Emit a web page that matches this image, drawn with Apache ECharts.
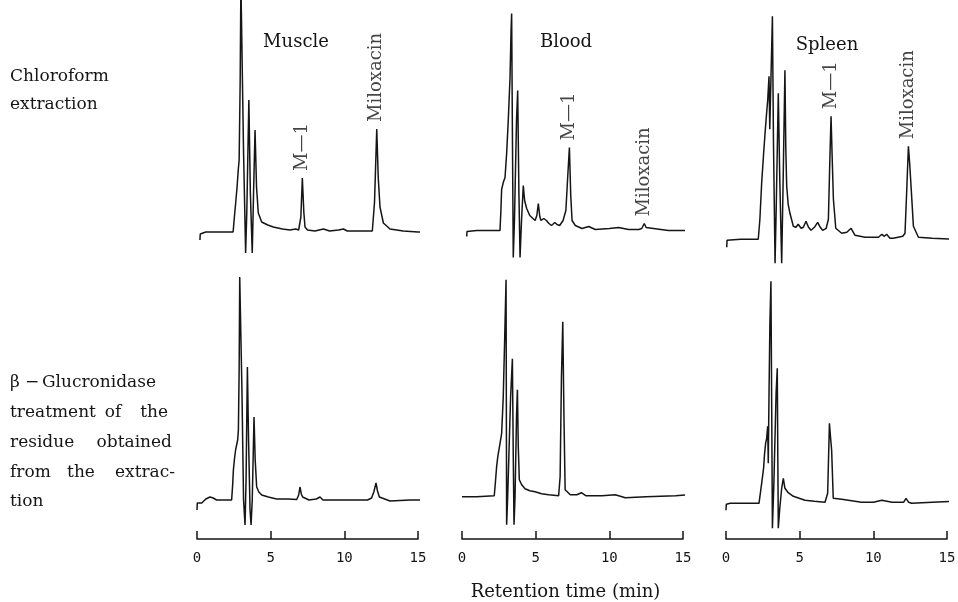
<!DOCTYPE html>
<html>
<head>
<meta charset="utf-8">
<title>Miloxacin HPLC chromatograms</title>
<script src="https://cdn.jsdelivr.net/npm/echarts@6/dist/echarts.min.js"></script>
<style>
  html, body { margin: 0; padding: 0; background: #fff; }
  #chart { width: 958px; height: 602px; }
</style>
</head>
<body>
<div id="chart"></div>
<script>
// traces: [retention time (min), detector response (arb. units above baseline)]
// top row = chloroform extraction
var muscleChl = [[0.2,-8],[0.22,-2],[0.6,0],[1.5,0],[2.45,0],[2.52,12],[2.6,25],[2.72,45],[2.8,62],[2.86,72],[2.93,150],[2.98,250],[3.06,250],[3.16,80],[3.3,-21],[3.38,20],[3.52,132],[3.62,40],[3.75,-21],[3.84,40],[3.94,102],[4.04,45],[4.16,19],[4.39,10],[4.8,7],[5.18,5],[5.8,3],[6.31,2],[6.7,3],[6.9,2],[7.05,15],[7.15,54],[7.25,20],[7.33,5],[7.5,2],[8.0,1],[8.58,3],[9.0,1],[9.6,2],[9.94,3],[10.2,1],[11.0,1],[11.9,1],[12.05,30],[12.2,103],[12.3,55],[12.42,25],[12.65,9],[13.1,3],[14,1],[15,0],[16.27,-1]];
var bloodChl = [[0.32,-6],[0.34,-1],[1,0],[2.0,0],[2.58,0],[2.64,20],[2.69,41],[2.8,48],[2.92,53],[3.03,77],[3.14,110],[3.26,153],[3.33,200],[3.37,217],[3.42,100],[3.48,-27],[3.56,10],[3.7,110],[3.78,140],[3.86,40],[3.94,-27],[4.04,10],[4.16,45],[4.25,30],[4.39,22],[4.6,15],[4.73,13],[4.96,10],[5.08,15],[5.18,27],[5.28,14],[5.36,10],[5.55,12],[5.73,10],[5.9,7],[6.07,5],[6.3,8],[6.45,6],[6.63,5],[6.86,10],[7.05,20],[7.18,55],[7.29,83],[7.38,35],[7.47,10],[7.69,5],[8.14,2],[8.6,4],[9.05,1],[10.0,2],[10.63,3],[11.3,1],[12.0,1],[12.2,2],[12.37,7],[12.5,3],[12.6,1],[14,0],[16.27,0]];
var spleenChl = [[0.05,-8],[0.07,-1],[1,0],[2.19,0],[2.3,20],[2.42,56],[2.55,85],[2.65,106],[2.75,125],[2.83,139],[2.92,163],[2.97,110],[3.05,160],[3.15,223],[3.22,100],[3.33,-24],[3.42,40],[3.55,146],[3.65,60],[3.78,-24],[3.88,60],[4.0,169],[4.06,90],[4.12,53],[4.22,35],[4.34,26],[4.57,13],[4.75,12],[4.9,15],[5.1,11],[5.25,12],[5.43,18],[5.6,12],[5.77,9],[6.0,12],[6.22,17],[6.4,12],[6.56,9],[6.8,11],[6.95,20],[7.05,80],[7.13,123],[7.2,85],[7.29,40],[7.45,11],[7.85,6],[8.2,7],[8.49,11],[8.76,4],[9.44,2],[10.35,2],[10.58,5],[10.75,3],[10.9,5],[11.13,1],[11.35,1],[12.0,3],[12.15,6],[12.27,50],[12.38,93],[12.47,75],[12.56,53],[12.72,13],[13.06,2],[14,1],[15.66,0]];
// bottom row = beta-glucuronidase treatment of the residue
var muscleGlu = [[0,-10],[0.02,-3],[0.32,-3],[0.6,1],[0.88,3],[1.1,2],[1.33,0],[2.35,0],[2.42,15],[2.47,30],[2.55,42],[2.62,50],[2.7,52],[2.76,60],[2.81,70],[2.86,130],[2.9,223],[2.97,223],[3.05,110],[3.16,0],[3.26,-25],[3.33,20],[3.42,133],[3.5,60],[3.6,-10],[3.67,-25],[3.75,0],[3.87,83],[3.95,40],[4.05,13],[4.2,8],[4.39,5],[4.84,3],[5.41,1],[6.2,1],[6.77,0.5],[6.9,5],[6.99,13],[7.08,6],[7.17,3],[7.6,0],[8.1,1],[8.35,3],[8.55,0],[10,0],[11.57,0],[11.85,2],[12.0,8],[12.15,17],[12.25,9],[12.38,3],[13.1,-1],[14.46,0],[15.2,0],[16.16,-3]];
var bloodGlu = [[0,0],[1,0],[2.19,1],[2.27,15],[2.35,30],[2.43,40],[2.51,47],[2.6,55],[2.69,63],[2.8,100],[2.9,160],[2.99,217],[3.03,-28],[3.1,0],[3.3,100],[3.42,138],[3.48,40],[3.53,-28],[3.6,0],[3.7,80],[3.76,107],[3.82,50],[3.89,17],[4.05,12],[4.28,8],[4.6,6],[4.96,5],[5.4,3],[5.88,2],[6.56,1],[6.66,20],[6.75,120],[6.84,175],[6.92,80],[7.0,7],[7.35,2],[7.8,2],[8.1,4],[8.4,1],[9.5,1],[10.4,2],[11.09,-1],[12.5,0],[14.5,1],[15.37,2],[15.65,1],[15.93,-1]];
var spleenGlu = [[0,-7],[0.02,-1],[0.29,0],[1.5,0],[2.24,0],[2.33,10],[2.42,20],[2.55,35],[2.62,50],[2.69,60],[2.76,65],[2.83,77],[2.87,40],[2.92,110],[2.98,180],[3.05,222],[3.1,100],[3.15,-25],[3.25,20],[3.4,110],[3.48,135],[3.52,40],[3.55,-25],[3.65,-5],[3.78,15],[3.89,25],[4.0,15],[4.2,11],[4.57,7],[5.36,3],[6.0,2],[6.72,1],[6.9,10],[7.02,80],[7.1,65],[7.17,53],[7.28,5],[7.85,4],[8.3,3],[9.2,1],[10.0,1],[10.58,3],[11.27,1],[12.05,1],[12.22,5],[12.4,1],[12.6,0],[14,1],[15.66,2]];

// peak labels of the chloroform extracts: [name, time, apex]
var musclePeaks = [['M—1', 7.15, 54], ['Miloxacin', 12.2, 103]];
var bloodPeaks = [['M—1', 7.29, 83], ['Miloxacin', 12.37, 7]];
var spleenPeaks = [['M—1', 7.13, 123], ['Miloxacin', 12.38, 93]];

var tissues = ['Muscle', 'Blood', 'Spleen'];
var timeMin = 0, timeMax = 15, timeStep = 5;

var topTraces = [muscleChl, bloodChl, spleenChl];
var botTraces = [muscleGlu, bloodGlu, spleenGlu];
var peakSets = [musclePeaks, bloodPeaks, spleenPeaks];

// layout (pixels)
var colLeft = [197, 462, 726];
var colWidth = 221;
var topBase = [232, 230.5, 239.3];
var botBase = [500, 496.7, 503.3];
var botTop = 260, axisY = 539;
var serif = 'DejaVu Serif';
var ink = '#151515';

var chart = echarts.init(document.getElementById('chart'));

var grids = [], xAxes = [], yAxes = [], series = [];

for (var c = 0; c < 3; c++) {
    // top row: no axis drawn, 1 unit = 1 px
    grids.push({ left: colLeft[c], width: colWidth, top: 0, height: topBase[c] + 40, outerBoundsMode: 'none' });
    xAxes.push({ gridIndex: c, type: 'value', min: timeMin, max: timeMax, show: false });
    yAxes.push({ gridIndex: c, type: 'value', min: -40, max: topBase[c], show: false });
}
for (var c = 0; c < 3; c++) {
    var g = 3 + c;
    grids.push({ left: colLeft[c], width: colWidth, top: botTop, height: axisY - botTop, outerBoundsMode: 'none' });
    xAxes.push({
        gridIndex: g, type: 'value', min: timeMin, max: timeMax, interval: timeStep,
        axisLine: { show: true, onZero: false, lineStyle: { color: ink, width: 1.5 } },
        axisTick: { show: true, inside: true, length: 8, lineStyle: { color: ink, width: 1.5 } },
        axisLabel: { show: true, margin: 12, color: ink, fontFamily: 'DejaVu Sans Mono', fontSize: 14, showMinLabel: true, showMaxLabel: true },
        splitLine: { show: false },
        name: c === 1 ? 'Retention time (min)' : '',
        nameLocation: 'middle', nameGap: 44,
        nameTextStyle: { color: ink, fontFamily: serif, fontSize: 18, padding: [0, 14, 0, 0] }
    });
    yAxes.push({ gridIndex: g, type: 'value', min: -(axisY - botBase[c]), max: botBase[c] - botTop, show: false });
}

function traceSeries(idx, data) {
    return {
        type: 'line', xAxisIndex: idx, yAxisIndex: idx, data: data,
        showSymbol: false, symbol: 'none', clip: false, silent: true,
        lineStyle: { color: ink, width: 1.5 }
    };
}

for (var c = 0; c < 3; c++) {
    series.push(traceSeries(c, topTraces[c]));
    series.push(traceSeries(3 + c, botTraces[c]));
    series.push({
        type: 'scatter', xAxisIndex: c, yAxisIndex: c, symbolSize: 0, silent: true, clip: false,
        data: peakSets[c].map(function (p) { return { name: p[0], value: [p[1], p[2]] }; }),
        label: {
            show: true, formatter: '{b}', position: 'top', distance: 7,
            rotate: 90, align: 'left', verticalAlign: 'middle',
            color: ink, fontFamily: serif, fontSize: 18
        }
    });
}

// text outside the plots
var panelTitleX = [296, 566, 827];
var panelTitleY = [42, 42, 45];
var graphics = tissues.map(function (name, i) {
    return { type: 'text', x: panelTitleX[i], y: panelTitleY[i],
        style: { text: name, align: 'center', verticalAlign: 'middle', fill: ink, font: '18px "' + serif + '"' } };
});

function word(text, x, y, align) {
    return { type: 'text', x: x, y: y,
        style: { text: text, align: align || 'left', verticalAlign: 'middle', fill: ink, font: '17px "' + serif + '"' } };
}
graphics.push(
    word('Chloroform', 10, 77),
    word('extraction', 10, 105),
    word('β', 10, 383),
    word('−', 32, 383, 'center'),
    word('Glucronidase', 42, 383),
    word('treatment', 10, 413),
    word('of', 113, 413, 'center'),
    word('the', 168, 413, 'right'),
    word('residue', 10, 443),
    word('obtained', 172, 443, 'right'),
    word('from', 10, 473),
    word('the', 81, 473, 'center'),
    word('extrac-', 175, 473, 'right'),
    word('tion', 10, 502)
);

chart.setOption({
    animation: false,
    backgroundColor: '#fff',
    grid: grids,
    xAxis: xAxes,
    yAxis: yAxes,
    series: series,
    graphic: graphics
});
</script>
</body>
</html>
